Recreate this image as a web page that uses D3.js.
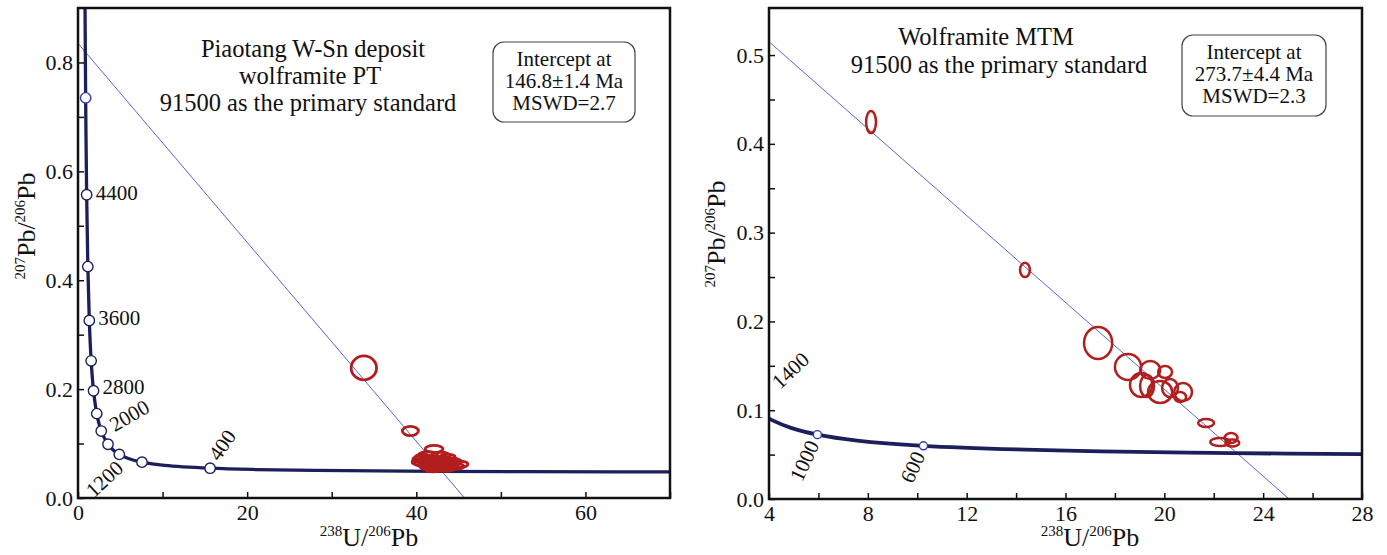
<!DOCTYPE html>
<html>
<head>
<meta charset="utf-8">
<script src="https://cdn.jsdelivr.net/npm/d3@7"></script>
<style>
body { margin: 0; background: #fff; }
text { font-family: "Liberation Serif", "Times New Roman", serif; fill: #111; }
</style>
</head>
<body>
<div id="chart"></div>
<script>
// ---- data ----
// concordia curve [238U/206Pb, 207Pb/206Pb]
const concordiaPT = [
  [0.829, 0.907], [0.905, 0.735], [1.022, 0.557], [1.163, 0.425], [1.337, 0.326],
  [1.556, 0.252], [1.838, 0.197], [2.217, 0.155], [2.749, 0.123], [3.550, 0.0987],
  [4.122, 0.0888], [4.888, 0.0801], [5.959, 0.0725], [7.568, 0.0658], [10.25, 0.0599],
  [15.62, 0.0547], [20.99, 0.0523], [31.74, 0.0501], [42.48, 0.0490], [63.97, 0.0480],
  [71.13, 0.0478]
];
const concordiaMTM = [
  [3.817, 0.0936], [4.122, 0.0888], [4.888, 0.0801], [5.959, 0.0725], [7.568, 0.0658],
  [10.25, 0.0599], [15.62, 0.0547], [20.99, 0.0523], [25.0, 0.0511], [31.74, 0.0501]
];

// age markers on the concordia [age Ma, x, y]
const markersPT = [
  [4800, 0.905, 0.735], [4400, 1.022, 0.557], [4000, 1.163, 0.425], [3600, 1.337, 0.326],
  [3200, 1.556, 0.252], [2800, 1.838, 0.197], [2400, 2.217, 0.155], [2000, 2.749, 0.123],
  [1600, 3.550, 0.0987], [1200, 4.888, 0.0801], [800, 7.568, 0.0658], [400, 15.62, 0.0547]
];
const markersMTM = [[1000, 5.959, 0.0725], [600, 10.25, 0.0599]];

// discordia lines (two end points)
const discordiaPT = [[0, 0.835], [45.7, 0]];
const discordiaMTM = [[4, 0.515], [25.05, 0]];

// error ellipses [x, y, half-width x, half-height y]
const ellipsesPT = [
  [33.8, 0.239, 1.5, 0.022],
  [39.3, 0.123, 0.95, 0.0085],
  [42.1, 0.090, 1.05, 0.0065],
  [41.4, 0.079, 1.1, 0.006], [42.9, 0.078, 1.1, 0.006],
  [40.6, 0.071, 1.0, 0.006], [41.8, 0.072, 1.2, 0.006], [43.2, 0.070, 1.1, 0.006],
  [44.3, 0.067, 1.0, 0.006], [40.9, 0.064, 1.1, 0.006], [42.2, 0.063, 1.2, 0.007],
  [43.6, 0.062, 1.2, 0.006], [45.0, 0.062, 1.1, 0.006], [41.6, 0.057, 1.1, 0.006],
  [42.8, 0.056, 1.2, 0.006], [44.0, 0.057, 1.0, 0.006], [43.0, 0.060, 0.9, 0.005],
  [40.3, 0.066, 0.8, 0.005], [41.2, 0.060, 0.9, 0.005], [42.4, 0.066, 0.9, 0.005],
  [43.8, 0.066, 0.8, 0.005], [44.7, 0.058, 0.9, 0.005], [42.0, 0.052, 0.9, 0.004],
  [43.4, 0.053, 0.9, 0.004], [40.8, 0.075, 0.9, 0.005], [43.7, 0.075, 0.9, 0.005]
];
const ellipsesMTM = [
  [8.13, 0.4245, 0.20, 0.0124],
  [14.36, 0.258, 0.20, 0.008],
  [17.32, 0.1757, 0.57, 0.018],
  [18.53, 0.1486, 0.53, 0.0146],
  [19.43, 0.1453, 0.40, 0.0101],
  [20.03, 0.1430, 0.28, 0.0068],
  [19.06, 0.1284, 0.45, 0.0135],
  [19.30, 0.1273, 0.28, 0.0124],
  [19.83, 0.1205, 0.49, 0.0124],
  [20.23, 0.1250, 0.32, 0.0101],
  [20.76, 0.1205, 0.36, 0.0101],
  [20.64, 0.1149, 0.24, 0.0056],
  [21.69, 0.0856, 0.32, 0.0045],
  [22.26, 0.0642, 0.40, 0.0045],
  [22.70, 0.0687, 0.26, 0.0056],
  [22.75, 0.0631, 0.28, 0.004]
];

// axis ticks
const xTicksPT = [0, 10, 20, 30, 40, 50, 60, 70], xLabelsPT = [0, 20, 40, 60];
const yTicksPT = [0, 0.1, 0.2, 0.3, 0.4, 0.5, 0.6, 0.7, 0.8], yLabelsPT = [0, 0.2, 0.4, 0.6, 0.8];
const xTicksMTM = d3.range(4, 28.1, 2), xLabelsMTM = [4, 8, 12, 16, 20, 24, 28];
const yTicksMTM = [0, 0.05, 0.1, 0.15, 0.2, 0.25, 0.3, 0.35, 0.4, 0.45, 0.5], yLabelsMTM = [0, 0.1, 0.2, 0.3, 0.4, 0.5];

const titlePT = ["Piaotang W-Sn deposit", "wolframite PT", "91500 as the primary standard"];
const titleMTM = ["Wolframite MTM", "91500 as the primary standard"];
const boxPT = ["Intercept at", "146.8\u00b11.4 Ma", "MSWD=2.7"];
const boxMTM = ["Intercept at", "273.7\u00b14.4 Ma", "MSWD=2.3"];

const svg = d3.select("#chart").append("svg")
  .attr("width", 1387).attr("height", 555);

function supTitle(sel, parts) {
  // parts alternate superscript / normal text
  parts.forEach((p, i) => {
    const sup = i % 2 === 0;
    sel.append("tspan").text(p)
      .style("font-size", sup ? "15px" : null)
      .attr("dy", sup ? -10 : 10);
  });
}

function drawPanel(o) {
  const x = d3.scaleLinear().domain(o.xDomain).range([o.left, o.right]);
  const y = d3.scaleLinear().domain(o.yDomain).range([o.bottom, o.top]);
  const g = svg.append("g");

  g.append("clipPath").attr("id", o.id + "clip")
    .append("rect").attr("x", o.left).attr("y", o.top)
    .attr("width", o.right - o.left).attr("height", o.bottom - o.top);
  const plot = g.append("g").attr("clip-path", `url(#${o.id}clip)`);

  // discordia
  plot.append("line")
    .attr("x1", x(o.disc[0][0])).attr("y1", y(o.disc[0][1]))
    .attr("x2", x(o.disc[1][0])).attr("y2", y(o.disc[1][1]))
    .attr("stroke", "#5566d8").attr("stroke-width", 1);

  // concordia
  plot.append("path")
    .datum(o.curve)
    .attr("d", d3.line().x(d => x(d[0])).y(d => y(d[1])).curve(d3.curveCatmullRom))
    .attr("fill", "none").attr("stroke", "#1c1f5a").attr("stroke-width", o.curveW);

  // ellipses
  plot.selectAll("ellipse.e")
    .data(o.ell)
    .join("ellipse")
      .attr("cx", d => x(d[0])).attr("cy", d => y(d[1]))
      .attr("rx", d => x(d[0] + d[2]) - x(d[0]))
      .attr("ry", d => y(d[1]) - y(d[1] + d[3]))
      .attr("fill", "none").attr("stroke", "#b21e1e").attr("stroke-width", o.ellW);

  // age markers
  plot.selectAll("circle.m")
    .data(o.markers)
    .join("circle")
      .attr("cx", d => x(d[1])).attr("cy", d => y(d[2]))
      .attr("r", o.markerR)
      .attr("fill", "#fff")
      .attr("stroke", d => d[0] === 4800 ? "#3a3ab8" : o.markerStroke)
      .attr("stroke-width", 1.4);

  // marker labels
  o.labels.forEach(l => {
    const m = o.markers.find(d => d[0] === l.age);
    g.append("text")
      .attr("transform", `translate(${x(m[1]) + l.dx},${y(m[2]) + l.dy}) rotate(${l.rot})`)
      .attr("text-anchor", l.anchor || "start")
      .attr("dominant-baseline", "middle")
      .style("font-size", "21px")
      .text(l.age);
  });

  // axes with inward ticks
  g.append("g")
    .attr("transform", `translate(0,${o.bottom})`)
    .call(d3.axisBottom(x).tickValues(o.xTicks).tickSizeInner(-6).tickSizeOuter(0).tickPadding(6)
      .tickFormat(d => o.xLabels.includes(d) ? d : ""))
    .call(a => a.select(".domain").remove())
    .call(a => a.selectAll("line").attr("stroke", "#111").attr("stroke-width", 1.5))
    .call(a => a.selectAll("text").style("font-size", "22px").style("font-family", "Liberation Serif"));

  g.append("g")
    .attr("transform", `translate(${o.left},0)`)
    .call(d3.axisLeft(y).tickValues(o.yTicks).tickSizeInner(-6).tickSizeOuter(0).tickPadding(5)
      .tickFormat(d => o.yLabels.includes(d) ? d3.format(".1f")(d) : ""))
    .call(a => a.select(".domain").remove())
    .call(a => a.selectAll("line").attr("stroke", "#111").attr("stroke-width", 1.5))
    .call(a => a.selectAll("text").style("font-size", "22px").style("font-family", "Liberation Serif"));

  g.append("rect")
    .attr("x", o.left).attr("y", o.top)
    .attr("width", o.right - o.left).attr("height", o.bottom - o.top)
    .attr("fill", "none").attr("stroke", "#111").attr("stroke-width", 2.5);

  // axis titles
  const xt = g.append("text")
    .attr("x", o.xTitleX).attr("y", 546)
    .attr("text-anchor", "middle").style("font-size", "26px");
  supTitle(xt, ["238", "U/", "206", "Pb"]);

  const yt = g.append("text")
    .attr("transform", `translate(${o.left - o.yTitleOff},${o.yTitleY}) rotate(-90)`)
    .attr("text-anchor", "middle").style("font-size", "26px");
  supTitle(yt, ["207", "Pb/", "206", "Pb"]);

  // title lines
  o.title.forEach((t, i) => {
    g.append("text")
      .attr("x", o.titleX[i]).attr("y", o.titleY[i])
      .attr("text-anchor", "middle").style("font-size", "24.5px")
      .text(t);
  });

  // result box
  g.append("rect")
    .attr("x", o.box[0]).attr("y", o.box[1]).attr("width", o.box[2]).attr("height", o.box[3])
    .attr("rx", 11).attr("fill", "#fff").attr("stroke", "#444").attr("stroke-width", 1.2);
  o.boxText.forEach((t, i) => {
    g.append("text")
      .attr("x", o.box[0] + o.box[2] / 2).attr("y", o.box[1] + 24 + i * 21.8)
      .attr("text-anchor", "middle").style("font-size", "21px")
      .text(t);
  });
}

drawPanel({
  id: "pt", left: 78, right: 670, top: 8, bottom: 498,
  xDomain: [0, 70], yDomain: [0, 0.9],
  curve: concordiaPT, markers: markersPT, disc: discordiaPT, ell: ellipsesPT,
  curveW: 3.3, ellW: 2.8, markerR: 5.2, markerStroke: "#1c1f5a",
  labels: [
    {age: 4400, dx: 9, dy: 0, rot: 0},
    {age: 3600, dx: 9, dy: 0, rot: 0},
    {age: 2800, dx: 9, dy: -2, rot: 0},
    {age: 2000, dx: 11, dy: -3, rot: -30},
    {age: 1200, dx: 2, dy: 12, rot: -43, anchor: "end"},
    {age: 400, dx: 5, dy: -9, rot: -55}
  ],
  xTicks: xTicksPT, xLabels: xLabelsPT, yTicks: yTicksPT, yLabels: yLabelsPT,
  xTitleX: 369, yTitleOff: 43, yTitleY: 226,
  title: titlePT, titleX: [313, 310, 308], titleY: [57, 84, 111],
  box: [493, 42, 142, 80], boxText: boxPT
});

drawPanel({
  id: "mtm", left: 769, right: 1362, top: 8, bottom: 499,
  xDomain: [4, 28], yDomain: [0, 0.553],
  curve: concordiaMTM, markers: markersMTM, disc: discordiaMTM, ell: ellipsesMTM,
  curveW: 3.8, ellW: 2.5, markerR: 4, markerStroke: "#3a3ab8",
  labels: [
    {age: 1000, dx: -2, dy: 8, rot: -65, anchor: "end"},
    {age: 600, dx: -2, dy: 8, rot: -65, anchor: "end"}
  ],
  xTicks: xTicksMTM, xLabels: xLabelsMTM, yTicks: yTicksMTM, yLabels: yLabelsMTM,
  xTitleX: 1090, yTitleOff: 44, yTitleY: 234,
  title: titleMTM, titleX: [986, 999], titleY: [45, 73],
  box: [1182, 35, 144, 81], boxText: boxMTM
});

// 1400 label sits at the left edge of the MTM curve
svg.append("text")
  .attr("transform", "translate(780,390) rotate(-43)")
  .style("font-size", "21px")
  .text("1400");
</script>
</body>
</html>
